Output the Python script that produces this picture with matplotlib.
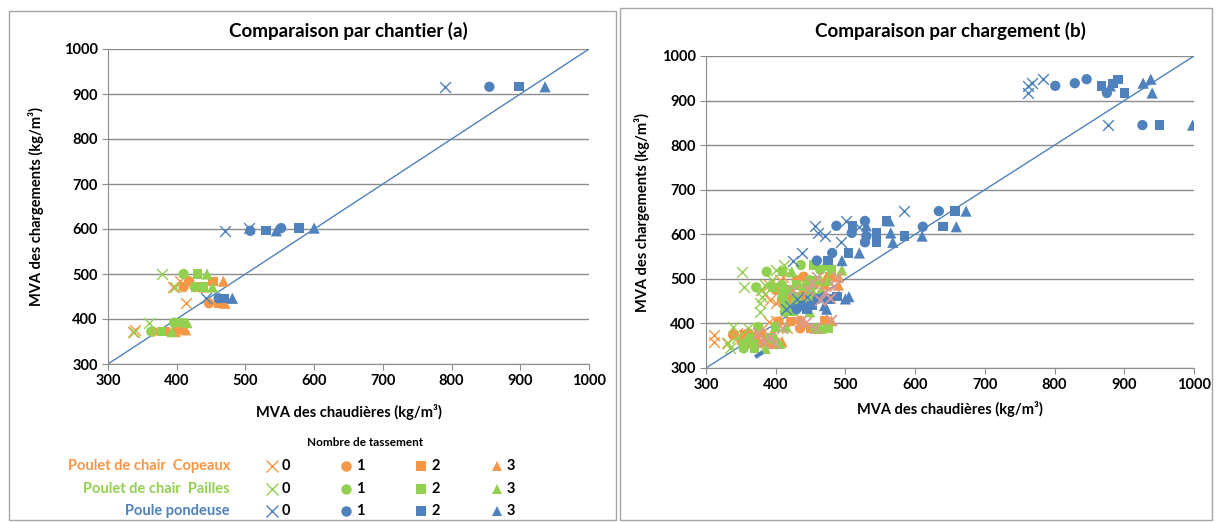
import matplotlib
matplotlib.use("Agg")
import matplotlib.pyplot as plt
from matplotlib.patches import Rectangle
from matplotlib.lines import Line2D

plt.rcParams['font.family'] = ['Lato', 'DejaVu Sans']
plt.rcParams['font.weight'] = 'bold'

ORANGE = '#F79646'
GREEN = '#92D050'
BLUE = '#4F81BD'
PINK = '#D99A94'
GRID = '#8C8C8C'

species = ['Poulet de chair  Copeaux', 'Poulet de chair  Pailles', 'Poule pondeuse']
levels = ['0', '1', '2', '3']
ticks = [300, 400, 500, 600, 700, 800, 900, 1000]

# (a) par chantier: one y per chantier, x per tassement 0..3
a_cop_y = [484, 471, 435, 376, 372]
a_cop_x0 = [405, 395, 414, 340, 337]
a_cop_x1 = [418, 410, 447, 400, 365]
a_cop_x2 = [453, 428, 461, 407, 383]
a_cop_x3 = [468, 440, 470, 413, 398]

a_pai_y = [500, 471, 392, 372]
a_pai_x0 = [379, 398, 359, 338]
a_pai_x1 = [410, 426, 396, 363]
a_pai_x2 = [430, 439, 405, 378]
a_pai_x3 = [444, 452, 415, 393]

a_pon_y = [916, 602, 596, 446]
a_pon_x0 = [790, 505, 470, 442]
a_pon_x1 = [855, 552, 507, 461]
a_pon_x2 = [898, 578, 530, 470]
a_pon_x3 = [936, 600, 545, 481]

# (b) par chargement
b_cop_y = [505, 497, 486, 475, 465, 453, 445, 406, 404, 389, 378, 374, 359, 355]
b_cop_x0 = [410, 406, 390, 379, 385, 392, 400, 400, 390, 416, 345, 311, 311, 330]
b_cop_x1 = [440, 430, 455, 400, 420, 409, 412, 435, 404, 435, 361, 339, 351, 360]
b_cop_x2 = [478, 449, 470, 420, 440, 425, 435, 470, 421, 450, 380, 355, 387, 375]
b_cop_x3 = [490, 470, 490, 440, 455, 445, 450, 480, 440, 460, 395, 370, 409, 395]

b_pai_y = [531, 520, 516, 497, 486, 481, 475, 460, 445, 426, 392, 389, 367, 355, 344]
b_pai_x0 = [412, 400, 352, 395, 385, 355, 380, 380, 377, 377, 339, 360, 345, 332, 334]
b_pai_x1 = [436, 464, 387, 449, 409, 372, 420, 410, 413, 413, 375, 456, 363, 354, 354]
b_pai_x2 = [455, 480, 410, 460, 430, 395, 449, 430, 428, 425, 400, 475, 392, 368, 370]
b_pai_x3 = [470, 495, 423, 475, 440, 410, 465, 450, 440, 449, 415, 465, 400, 406, 385]

b_pon_y = [948, 939, 933, 917, 845, 652, 630, 619, 617, 603, 596, 582, 558, 541, 460, 455, 440, 432]
b_pon_x0 = [783, 768, 762, 762, 877, 584, 501, 456, 520, 461, 471, 493, 438, 425, 445, 430, 420, 415]
b_pon_x1 = [846, 829, 801, 875, 926, 634, 528, 487, 611, 509, 530, 528, 481, 459, 470, 460, 438, 430]
b_pon_x2 = [891, 884, 867, 900, 951, 657, 559, 510, 640, 545, 585, 545, 504, 475, 488, 478, 452, 445]
b_pon_x3 = [938, 927, 880, 940, 998, 673, 563, 530, 659, 565, 610, 568, 520, 495, 505, 500, 470, 473]

b_extra_x = [459, 488, 483, 425, 447, 478, 464, 444, 456, 480, 392, 397, 375, 382, 409, 435, 470, 452]
b_extra_y = [505, 505, 483, 475, 475, 456, 453, 404, 389, 408, 370, 355, 378, 359, 389, 404, 470, 490]

b_dash_x = [373, 376, 379]
b_dash_y = [327, 330, 333]

MARKERS = ['x', 'o', 's', '^']
SIZES = [60, 55, 45, 65]


def plot_group(ax, y, xs, color):
    for xv, m, s in zip(xs, MARKERS, SIZES):
        if m == 'x':
            ax.scatter(xv, y, marker='x', s=s, color=color, linewidths=1.0, zorder=3)
        else:
            ax.scatter(xv, y, marker=m, s=s, color=color, edgecolors='none', zorder=3)


def style_axes(ax, title, tpad):
    ax.set_xlim(300, 1000)
    ax.set_ylim(300, 1000)
    ax.set_xticks(ticks)
    ax.set_yticks(ticks)
    ax.grid(axis='y', color=GRID, linewidth=1)
    ax.set_axisbelow(True)
    for side in ['top', 'right']:
        ax.spines[side].set_visible(False)
    for side in ['left', 'bottom']:
        ax.spines[side].set_color(GRID)
    ax.tick_params(colors=GRID, labelcolor='black', labelsize=10.5, length=4, direction='out')
    for lab in ax.get_xticklabels() + ax.get_yticklabels():
        lab.set_fontweight('bold')
    ax.plot(ticks, ticks, color=BLUE, linewidth=1, zorder=2)
    ax.set_xlabel('MVA des chaudières (kg/m³)', fontsize=10.5, fontweight='bold')
    ax.set_ylabel('MVA des chargements (kg/m³)', fontsize=10.5, fontweight='bold')
    ax.set_title(title, fontsize=13.5, fontweight='bold', pad=tpad)


fig = plt.figure(figsize=(12.17, 5.22), dpi=100)

fig.patches.append(Rectangle((9 / 1217, 1 - 520 / 522), 607 / 1217, 509 / 522,
                             transform=fig.transFigure, fill=False, edgecolor='#A6A6A6', linewidth=1))
fig.patches.append(Rectangle((620 / 1217, 1 - 520 / 522), 592 / 1217, 512 / 522,
                             transform=fig.transFigure, fill=False, edgecolor='#A6A6A6', linewidth=1))

ax1 = fig.add_axes([108 / 1217, 1 - 364 / 522, 481 / 1217, 315 / 522])
plot_group(ax1, a_cop_y, [a_cop_x0, a_cop_x1, a_cop_x2, a_cop_x3], ORANGE)
plot_group(ax1, a_pai_y, [a_pai_x0, a_pai_x1, a_pai_x2, a_pai_x3], GREEN)
plot_group(ax1, a_pon_y, [a_pon_x0, a_pon_x1, a_pon_x2, a_pon_x3], BLUE)
style_axes(ax1, 'Comparaison par chantier (a)', 9)
ax1.xaxis.labelpad = 11
ax1.yaxis.labelpad = 14

ax2 = fig.add_axes([706 / 1217, 1 - 368 / 522, 488 / 1217, 312 / 522])
plot_group(ax2, b_cop_y, [b_cop_x0, b_cop_x1, b_cop_x2, b_cop_x3], ORANGE)
plot_group(ax2, b_pai_y, [b_pai_x0, b_pai_x1, b_pai_x2, b_pai_x3], GREEN)
plot_group(ax2, b_pon_y, [b_pon_x0, b_pon_x1, b_pon_x2, b_pon_x3], BLUE)
ax2.scatter(b_extra_x, b_extra_y, marker='x', s=60, color=PINK, linewidths=1.3, zorder=4)
ax2.plot(b_dash_x, b_dash_y, color=BLUE, linewidth=3, zorder=3)
style_axes(ax2, 'Comparaison par chargement (b)', 14)
ax2.xaxis.labelpad = 6
ax2.yaxis.labelpad = 8

# legend block under chart (a)
fig.text(365 / 1217, 1 - 442 / 522, 'Nombre de tassement', fontsize=8.5, fontweight='bold',
         ha='center', va='center')
row_y = [466, 489, 511]
row_colors = [ORANGE, GREEN, BLUE]
col_x = [272, 346, 421, 497]
for name, ry, c in zip(species, row_y, row_colors):
    fy = 1 - ry / 522
    fig.text(230 / 1217, fy, name, color=c, fontsize=10.5, fontweight='bold', ha='right', va='center')
    for lv, cx, m in zip(levels, col_x, MARKERS):
        fx = cx / 1217
        if m == 'x':
            fig.add_artist(Line2D([fx], [fy], marker='x', markersize=8, color=c,
                                  markeredgewidth=1.0, linestyle='none', transform=fig.transFigure))
        else:
            fig.add_artist(Line2D([fx], [fy], marker=m, markersize=7.5, color=c,
                                  markeredgewidth=0, linestyle='none', transform=fig.transFigure))
        fig.text((cx + 10) / 1217, fy, lv, fontsize=10.5, fontweight='bold', ha='left', va='center')

fig.savefig('out.png', dpi=100)
